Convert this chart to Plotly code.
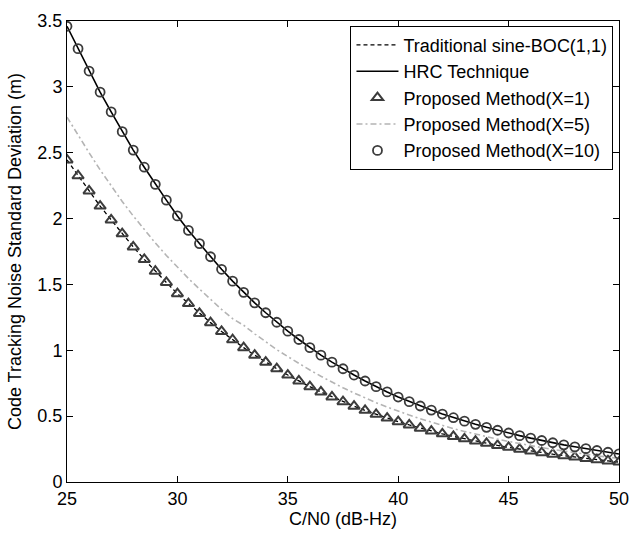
import plotly.graph_objects as go

cn0 = [25 + 0.5 * i for i in range(51)]

hrc = [3.46, 3.29, 3.12, 2.96, 2.81, 2.66, 2.52, 2.39, 2.26, 2.14,
       2.02, 1.91, 1.81, 1.71, 1.615, 1.525, 1.44, 1.36, 1.285, 1.213,
       1.145, 1.082, 1.02, 0.963, 0.91, 0.86, 0.812, 0.767, 0.724, 0.684,
       0.645, 0.61, 0.577, 0.546, 0.516, 0.488, 0.462, 0.438, 0.415, 0.393,
       0.372, 0.352, 0.333, 0.315, 0.298, 0.282, 0.267, 0.253, 0.239, 0.226,
       0.213]

traditional = [2.445, 2.325, 2.21, 2.095, 1.99, 1.885, 1.785, 1.69, 1.6, 1.515,
               1.43, 1.355, 1.28, 1.21, 1.143, 1.08, 1.02, 0.963, 0.91, 0.86,
               0.812, 0.767, 0.724, 0.684, 0.646, 0.61, 0.576, 0.544, 0.514, 0.485,
               0.458, 0.433, 0.409, 0.387, 0.366, 0.346, 0.328, 0.311, 0.294, 0.278,
               0.263, 0.249, 0.236, 0.223, 0.211, 0.2, 0.189, 0.179, 0.169, 0.16,
               0.151]

prop_x1 = list(traditional)

prop_x5 = [2.77, 2.63, 2.5, 2.37, 2.25, 2.13, 2.02, 1.915, 1.815, 1.72,
           1.63, 1.545, 1.465, 1.385, 1.31, 1.24, 1.19, 1.125, 1.063, 1.005,
           0.952, 0.9, 0.85, 0.803, 0.758, 0.715, 0.676, 0.638, 0.602, 0.569,
           0.537, 0.508, 0.48, 0.454, 0.429, 0.405, 0.384, 0.363, 0.344, 0.325,
           0.308, 0.291, 0.276, 0.261, 0.247, 0.234, 0.222, 0.21, 0.199, 0.189,
           0.179]

prop_x10 = list(hrc)

x_ticks = [25, 30, 35, 40, 45, 50]
y_ticks = [0, 0.5, 1, 1.5, 2, 2.5, 3, 3.5]
y_tick_labels = ["0", "0.5", "1", "1.5", "2", "2.5", "3", "3.5"]

FONT = "Liberation Sans, Arial, sans-serif"
MK = "#3c3c3c"

fig = go.Figure()
fig.add_trace(go.Scatter(x=cn0, y=traditional, mode="lines",
                         name="Traditional sine-BOC(1,1)",
                         line=dict(color="black", width=1.3, dash="4px,3px")))
fig.add_trace(go.Scatter(x=cn0, y=hrc, mode="lines", name="HRC Technique",
                         line=dict(color="black", width=1.6)))
fig.add_trace(go.Scatter(x=cn0, y=prop_x1, mode="markers",
                         name="Proposed Method(X=1)",
                         marker=dict(symbol="triangle-up-open", size=10,
                                     color=MK, line=dict(width=2, color=MK))))
fig.add_trace(go.Scatter(x=cn0, y=prop_x5, mode="lines",
                         name="Proposed Method(X=5)",
                         line=dict(color="#b4b4b4", width=1.6,
                                   dash="6px,3px,2px,3px")))
fig.add_trace(go.Scatter(x=cn0, y=prop_x10, mode="markers",
                         name="Proposed Method(X=10)",
                         marker=dict(symbol="circle-open", size=9,
                                     color=MK, line=dict(width=1.8, color=MK))))

axis_common = dict(showgrid=False, zeroline=False, showline=True,
                   linecolor="black", linewidth=1, mirror="ticks",
                   ticks="inside", ticklen=6, tickcolor="black",
                   tickfont=dict(family=FONT, size=18, color="black"))

fig.update_xaxes(range=[25, 50], tickvals=x_ticks,
                 ticktext=[str(v) for v in x_ticks],
                 title=dict(text="C/N0 (dB-Hz)", standoff=2,
                            font=dict(family=FONT, size=18, color="black")),
                 **axis_common)
fig.update_yaxes(range=[0, 3.5], tickvals=y_ticks, ticktext=y_tick_labels,
                 title=dict(text="Code Tracking Noise Standard Deviation (m)",
                            standoff=11,
                            font=dict(family=FONT, size=18, color="black")),
                 **axis_common)

fig.update_layout(
    width=640, height=534,
    margin=dict(l=67, r=11, t=16, b=49, pad=0),
    paper_bgcolor="white", plot_bgcolor="white",
    font=dict(family=FONT, size=18, color="black"),
    showlegend=True,
    legend=dict(x=0.99, y=0.99, xanchor="right", yanchor="top",
                bgcolor="white", bordercolor="black", borderwidth=1,
                font=dict(family=FONT, size=18, color="black"),
                tracegroupgap=0, itemwidth=42),
)

fig.write_html("out.html")
